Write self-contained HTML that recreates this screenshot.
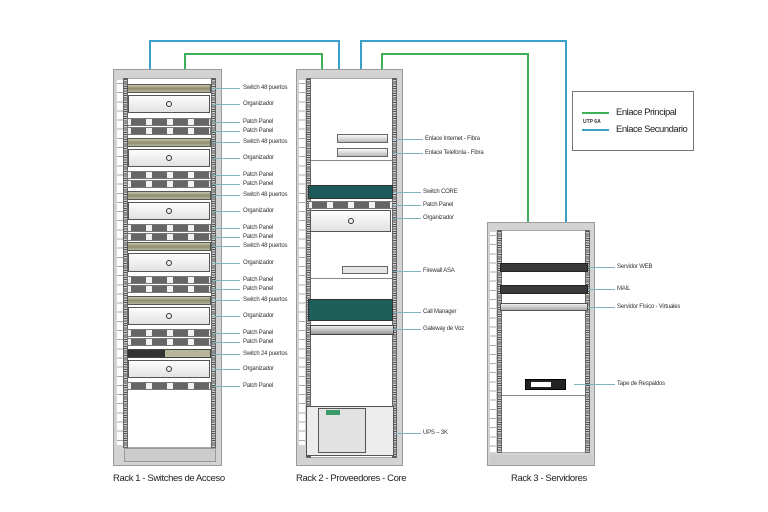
<!DOCTYPE html>
<html><head><meta charset="utf-8"><style>
body{margin:0;width:768px;height:512px;background:#fff;position:relative;overflow:hidden;font-family:"Liberation Sans",sans-serif}
div{position:absolute;box-sizing:border-box}
.frame{background:#d3d3d3;border:1px solid #9a9a9a}
.inner{background:#fff;border:1px solid #aaa}
.rail{width:5px;background:repeating-linear-gradient(#555 0 1px,#ccc 1px 2.3px);border:1px solid #666}
.nums{width:6px;background:repeating-linear-gradient(#fff 0 3px,#aaa 3px 4px,#fff 4px 9.15px)}
.lbl{font-size:6px;letter-spacing:-0.2px;color:#333;white-space:nowrap;line-height:8px}
.ld{height:1px;background:#7fb3c0}
.sw{background:linear-gradient(#c9c7a8,#8e8c70 50%,#b8b69a);border:1px solid #555}
.org{background:linear-gradient(#fdfdfd,#e2e2e2);border:1px solid #555}
.org:after{content:"";position:absolute;left:50%;top:50%;width:4px;height:4px;margin:-3px;border:1px solid #333;border-radius:50%}
.pp{background:repeating-linear-gradient(90deg,#f2f2f2 0 3px,#666 3px 18px,#f2f2f2 18px 21px);border:1px solid #777}
.line{background:#3aa0c8}
.g{background:#3fb05a}
.title{font-size:9.5px;letter-spacing:-0.4px;color:#222;white-space:nowrap}
</style></head><body>
<!-- connectors -->
<div class="line" style="left:149px;top:40px;width:2px;height:30px"></div>
<div class="line" style="left:149px;top:40px;width:191px;height:2px"></div>
<div class="line" style="left:338px;top:40px;width:2px;height:30px"></div>
<div class="g" style="left:184px;top:53px;width:2px;height:17px"></div>
<div class="g" style="left:184px;top:53px;width:139px;height:2px"></div>
<div class="g" style="left:321px;top:53px;width:2px;height:17px"></div>
<div class="line" style="left:360px;top:40px;width:2px;height:30px"></div>
<div class="line" style="left:360px;top:40px;width:206px;height:2px"></div>
<div class="line" style="left:565px;top:40px;width:2px;height:183px"></div>
<div class="g" style="left:381px;top:53px;width:2px;height:17px"></div>
<div class="g" style="left:381px;top:53px;width:147px;height:2px"></div>
<div class="g" style="left:527px;top:53px;width:2px;height:170px"></div>

<!-- legend -->
<div style="left:572px;top:91px;width:122px;height:60px;border:1px solid #777;background:#fff"></div>
<div class="g" style="left:582px;top:112px;width:27px;height:2px"></div>
<div class="line" style="left:582px;top:129px;width:27px;height:2px"></div>
<div style="left:583px;top:119px;font-size:5px;font-weight:bold;color:#333">UTP 6A</div>
<div style="left:616px;top:107px;font-size:9.5px;letter-spacing:-0.5px;color:#222">Enlace Principal</div>
<div style="left:616px;top:124px;font-size:9.5px;letter-spacing:-0.5px;color:#222">Enlace Secundario</div>

<!-- Rack 1 -->
<div class="frame" style="left:113px;top:69px;width:109px;height:397px"></div>
<div class="nums" style="left:117px;top:80px;height:365px"></div>
<div class="inner" style="left:123px;top:78px;width:93px;height:370px"></div>
<div class="rail" style="left:123px;top:78px;height:370px"></div>
<div class="rail" style="left:211px;top:78px;height:370px"></div>
<div style="left:124px;top:448px;width:92px;height:14px;background:#ccc;border:1px solid #999"></div>
<div class="title" style="left:113px;top:473px">Rack 1 - Switches de Acceso</div>

<!-- Rack 2 -->
<div class="frame" style="left:296px;top:69px;width:107px;height:397px"></div>
<div class="nums" style="left:299px;top:80px;height:365px"></div>
<div class="inner" style="left:306px;top:78px;width:91px;height:380px"></div>
<div class="rail" style="left:306px;top:78px;height:380px"></div>
<div class="rail" style="left:392px;top:78px;height:380px"></div>
<div style="left:311px;top:160px;width:81px;height:1px;background:#888"></div>
<div style="left:311px;top:278px;width:81px;height:1px;background:#888"></div>
<div style="left:337px;top:134px;width:51px;height:9px;background:linear-gradient(#fafafa,#bbb);border:1px solid #666"></div>
<div style="left:337px;top:148px;width:51px;height:9px;background:linear-gradient(#fafafa,#bbb);border:1px solid #666"></div>
<div style="left:308px;top:185px;width:85px;height:14px;background:#1f5a5a;border:1px solid #333"></div>
<div class="pp" style="left:308px;top:201px;width:85px;height:8px"></div>
<div class="org" style="left:310px;top:210px;width:81px;height:22px"></div>
<div style="left:342px;top:266px;width:46px;height:8px;background:#e6e6e6;border:1px solid #666"></div>
<div style="left:308px;top:299px;width:85px;height:22px;background:#1e5e58;border:1px solid #333"></div>
<div style="left:310px;top:325px;width:84px;height:10px;background:linear-gradient(#eee,#999);border:1px solid #444"></div>
<div style="left:306px;top:406px;width:88px;height:50px;background:#ececec;border:1px solid #555"></div>
<div style="left:318px;top:408px;width:48px;height:45px;background:#e2e2e2;border:1px solid #555"></div>
<div style="left:326px;top:410px;width:14px;height:5px;background:#3a9a6a"></div>
<div class="title" style="left:296px;top:473px">Rack 2 - Proveedores - Core</div>

<!-- Rack 3 -->
<div class="frame" style="left:487px;top:222px;width:108px;height:244px"></div>
<div class="nums" style="left:490px;top:232px;height:220px"></div>
<div class="inner" style="left:497px;top:230px;width:93px;height:223px"></div>
<div class="rail" style="left:497px;top:230px;height:223px"></div>
<div class="rail" style="left:585px;top:230px;height:223px"></div>
<div style="left:502px;top:395px;width:83px;height:1px;background:#888"></div>
<div style="left:500px;top:263px;width:88px;height:9px;background:#3a3a3a;border:1px solid #222"></div>
<div style="left:500px;top:285px;width:88px;height:9px;background:#3a3a3a;border:1px solid #222"></div>
<div style="left:500px;top:303px;width:88px;height:8px;background:linear-gradient(#eee,#aaa);border:1px solid #555"></div>
<div style="left:525px;top:379px;width:41px;height:11px;background:#222;border:1px solid #000"></div>
<div style="left:531px;top:382px;width:20px;height:5px;background:#fff"></div>
<div style="left:490px;top:455px;width:103px;height:10px;background:#ccc"></div>
<div class="title" style="left:511px;top:473px">Rack 3 - Servidores</div>

<!-- labels rack 2 -->
<div class="ld" style="left:393px;top:139px;width:30px"></div><div class="lbl" style="left:425px;top:135px">Enlace Internet - Fibra</div>
<div class="ld" style="left:393px;top:153px;width:30px"></div><div class="lbl" style="left:425px;top:149px">Enlace Telefonía - Fibra</div>
<div class="ld" style="left:393px;top:192px;width:28px"></div><div class="lbl" style="left:423px;top:188px">Switch CORE</div>
<div class="ld" style="left:393px;top:205px;width:28px"></div><div class="lbl" style="left:423px;top:201px">Patch Panel</div>
<div class="ld" style="left:393px;top:218px;width:28px"></div><div class="lbl" style="left:423px;top:214px">Organizador</div>
<div class="ld" style="left:393px;top:271px;width:28px"></div><div class="lbl" style="left:423px;top:267px">Firewall ASA</div>
<div class="ld" style="left:393px;top:312px;width:28px"></div><div class="lbl" style="left:423px;top:308px">Call Manager</div>
<div class="ld" style="left:393px;top:329px;width:28px"></div><div class="lbl" style="left:423px;top:325px">Gateway de Voz</div>
<div class="ld" style="left:395px;top:433px;width:26px"></div><div class="lbl" style="left:423px;top:429px">UPS – 3K</div>
<!-- labels rack 3 -->
<div class="ld" style="left:588px;top:267px;width:27px"></div><div class="lbl" style="left:617px;top:263px">Servidor WEB</div>
<div class="ld" style="left:588px;top:289px;width:27px"></div><div class="lbl" style="left:617px;top:285px">MAIL</div>
<div class="ld" style="left:588px;top:307px;width:27px"></div><div class="lbl" style="left:617px;top:303px">Servidor Físico - Virtuales</div>
<div class="ld" style="left:574px;top:384px;width:41px"></div><div class="lbl" style="left:617px;top:380px">Tape de Respaldos</div>

<div class="ld" style="left:212px;top:88px;width:28px"></div><div class="lbl" style="left:243px;top:84px">Switch 48 puertos</div>
<div class="ld" style="left:212px;top:104px;width:28px"></div><div class="lbl" style="left:243px;top:100px">Organizador</div>
<div class="ld" style="left:212px;top:122px;width:28px"></div><div class="lbl" style="left:243px;top:118px">Patch Panel</div>
<div class="ld" style="left:212px;top:131px;width:28px"></div><div class="lbl" style="left:243px;top:127px">Patch Panel</div>
<div class="ld" style="left:212px;top:142px;width:28px"></div><div class="lbl" style="left:243px;top:138px">Switch 48 puertos</div>
<div class="ld" style="left:212px;top:158px;width:28px"></div><div class="lbl" style="left:243px;top:154px">Organizador</div>
<div class="ld" style="left:212px;top:175px;width:28px"></div><div class="lbl" style="left:243px;top:171px">Patch Panel</div>
<div class="ld" style="left:212px;top:184px;width:28px"></div><div class="lbl" style="left:243px;top:180px">Patch Panel</div>
<div class="ld" style="left:212px;top:195px;width:28px"></div><div class="lbl" style="left:243px;top:191px">Switch 48 puertos</div>
<div class="ld" style="left:212px;top:211px;width:28px"></div><div class="lbl" style="left:243px;top:207px">Organizador</div>
<div class="ld" style="left:212px;top:228px;width:28px"></div><div class="lbl" style="left:243px;top:224px">Patch Panel</div>
<div class="ld" style="left:212px;top:237px;width:28px"></div><div class="lbl" style="left:243px;top:233px">Patch Panel</div>
<div class="ld" style="left:212px;top:246px;width:28px"></div><div class="lbl" style="left:243px;top:242px">Switch 48 puertos</div>
<div class="ld" style="left:212px;top:263px;width:28px"></div><div class="lbl" style="left:243px;top:259px">Organizador</div>
<div class="ld" style="left:212px;top:280px;width:28px"></div><div class="lbl" style="left:243px;top:276px">Patch Panel</div>
<div class="ld" style="left:212px;top:289px;width:28px"></div><div class="lbl" style="left:243px;top:285px">Patch Panel</div>
<div class="ld" style="left:212px;top:300px;width:28px"></div><div class="lbl" style="left:243px;top:296px">Switch 48 puertos</div>
<div class="ld" style="left:212px;top:316px;width:28px"></div><div class="lbl" style="left:243px;top:312px">Organizador</div>
<div class="ld" style="left:212px;top:333px;width:28px"></div><div class="lbl" style="left:243px;top:329px">Patch Panel</div>
<div class="ld" style="left:212px;top:342px;width:28px"></div><div class="lbl" style="left:243px;top:338px">Patch Panel</div>
<div class="ld" style="left:212px;top:354px;width:28px"></div><div class="lbl" style="left:243px;top:350px">Switch 24 puertos</div>
<div class="ld" style="left:212px;top:369px;width:28px"></div><div class="lbl" style="left:243px;top:365px">Organizador</div>
<div class="ld" style="left:212px;top:386px;width:28px"></div><div class="lbl" style="left:243px;top:382px">Patch Panel</div>

<!-- rack1 devices -->
<div class="sw" style="left:127px;top:84px;width:84px;height:9px"></div>
<div class="org" style="left:128px;top:95px;width:82px;height:18px"></div>
<div class="pp" style="left:127px;top:118px;width:84px;height:8px"></div>
<div class="pp" style="left:127px;top:127px;width:84px;height:8px"></div>
<div class="sw" style="left:127px;top:138px;width:84px;height:9px"></div>
<div class="org" style="left:128px;top:149px;width:82px;height:18px"></div>
<div class="pp" style="left:127px;top:171px;width:84px;height:8px"></div>
<div class="pp" style="left:127px;top:180px;width:84px;height:8px"></div>
<div class="sw" style="left:127px;top:191px;width:84px;height:9px"></div>
<div class="org" style="left:128px;top:202px;width:82px;height:18px"></div>
<div class="pp" style="left:127px;top:224px;width:84px;height:8px"></div>
<div class="pp" style="left:127px;top:233px;width:84px;height:8px"></div>
<div class="sw" style="left:127px;top:242px;width:84px;height:9px"></div>
<div class="org" style="left:128px;top:253px;width:82px;height:19px"></div>
<div class="pp" style="left:127px;top:276px;width:84px;height:8px"></div>
<div class="pp" style="left:127px;top:285px;width:84px;height:8px"></div>
<div class="sw" style="left:127px;top:296px;width:84px;height:9px"></div>
<div class="org" style="left:128px;top:307px;width:82px;height:18px"></div>
<div class="pp" style="left:127px;top:329px;width:84px;height:8px"></div>
<div class="pp" style="left:127px;top:338px;width:84px;height:8px"></div>
<div style="left:127px;top:349px;width:84px;height:9px;background:linear-gradient(90deg,#333 0 45%,#b8b69a 45%);border:1px solid #444"></div>
<div class="org" style="left:128px;top:360px;width:82px;height:18px"></div>
<div class="pp" style="left:127px;top:382px;width:84px;height:8px"></div>
</body></html>
